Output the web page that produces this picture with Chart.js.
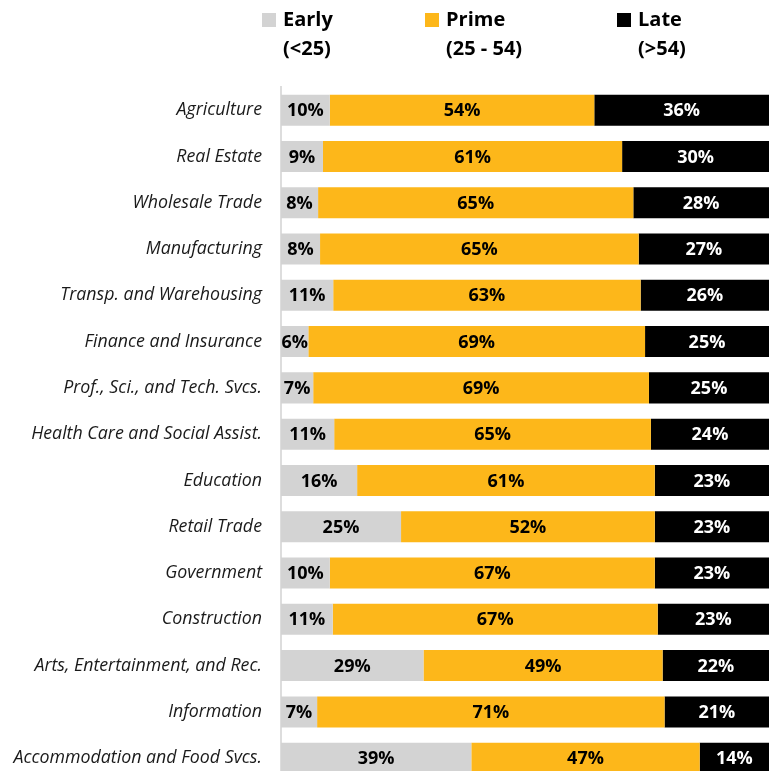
<!DOCTYPE html>
<html>
<head>
<meta charset="utf-8">
<script src="https://cdn.jsdelivr.net/npm/chart.js@4.4.1/dist/chart.umd.min.js"></script>
<style>
html,body{margin:0;padding:0;background:#fff;overflow:hidden;}
canvas{display:block;}
</style>
</head>
<body>
<canvas id="c" width="776" height="795"></canvas>
<script>
const categories = ["Agriculture","Real Estate","Wholesale Trade","Manufacturing","Transp. and Warehousing","Finance and Insurance","Prof., Sci., and Tech. Svcs.","Health Care and Social Assist.","Education","Retail Trade","Government","Construction","Arts, Entertainment, and Rec.","Information","Accommodation and Food Svcs."];
const early = [10.0, 8.6, 7.6, 8.0, 10.7, 5.6, 6.6, 10.9, 15.6, 24.6, 10.0, 10.6, 29.2, 7.4, 39.0];
const prime = [54.2, 61.3, 64.6, 65.3, 63.0, 69.0, 68.8, 64.9, 61.0, 52.0, 66.6, 66.6, 49.0, 71.2, 46.8];
const late  = [35.8, 30.1, 27.8, 26.7, 26.3, 25.4, 24.6, 24.2, 23.4, 23.4, 23.4, 22.8, 21.8, 21.4, 14.2];
const seriesNames = [["Early","(<25)"],["Prime","(25 - 54)"],["Late","(>54)"]];
const colors = ["#D3D3D3","#FDB71A","#000000"];
const labelColors = ["#000000","#000000","#FFFFFF"];

const FONT = "'Open Sans'";

const valueLabels = {
  id:'valueLabels',
  afterDatasetsDraw(chart){
    const ctx = chart.ctx;
    ctx.save();
    ctx.font = "bold 18px " + FONT;
    ctx.textAlign = 'center';
    ctx.textBaseline = 'middle';
    chart.data.datasets.forEach((ds, di) => {
      const meta = chart.getDatasetMeta(di);
      meta.data.forEach((el, i) => {
        const v = ds.data[i];
        const cx = (el.x + el.base) / 2;
        ctx.fillStyle = labelColors[di];
        ctx.fillText(Math.round(v) + '%', cx, el.y + 1);
      });
    });
    ctx.restore();
  }
};

const customLegend = {
  id:'customLegend',
  afterDraw(chart){
    const ctx = chart.ctx;
    const xs = [262, 425, 617];
    ctx.save();
    ctx.font = "bold 20px " + FONT;
    ctx.textBaseline = 'middle';
    ctx.textAlign = 'left';
    seriesNames.forEach((n, i) => {
      ctx.fillStyle = colors[i];
      ctx.fillRect(xs[i], 13, 14, 14);
      ctx.fillStyle = '#000';
      ctx.fillText(n[0], xs[i] + 21, 20);
      ctx.fillText(n[1], xs[i] + 21, 49);
    });
    ctx.restore();
  }
};

new Chart(document.getElementById('c'), {
  type: 'bar',
  data: {
    labels: categories,
    datasets: [
      {label: 'Early (<25)', data: early, backgroundColor: colors[0]},
      {label: 'Prime (25 - 54)', data: prime, backgroundColor: colors[1]},
      {label: 'Late (>54)', data: late, backgroundColor: colors[2]}
    ]
  },
  options: {
    indexAxis: 'y',
    responsive: false,
    animation: false,
    devicePixelRatio: 1,
    layout: {padding: {top: 87, bottom: 8, right: 7, left: 0}},
    datasets: {bar: {barPercentage: 0.67, categoryPercentage: 1.0, borderWidth: 0}},
    plugins: {legend: {display: false}, tooltip: {enabled: false}},
    scales: {
      x: {stacked: true, min: 0, max: 100, display: false},
      y: {
        stacked: true,
        grid: {display: false, drawTicks: true, tickLength: 16},
        border: {display: true, color: '#DDDDDD', width: 2},
        ticks: {font: {family: "'Open Sans'", size: 17.8, style: 'italic'}, color: '#1a1a1a', padding: 3},
        afterFit(scale){ scale.width = 281; }
      }
    }
  },
  plugins: [valueLabels, customLegend]
});
</script>
</body>
</html>
